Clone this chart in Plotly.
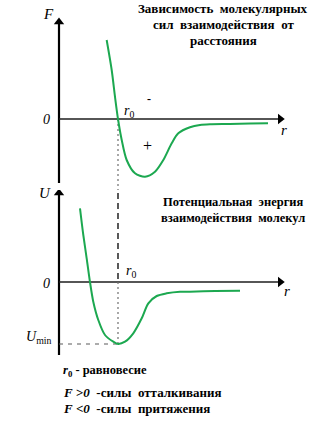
import plotly.graph_objects as go

# ---- data (r in units of r0) ----
r0 = 1.0
F_r = [0.808, 0.893, 0.949, 1.0, 1.063, 1.147, 1.288, 1.458, 1.627, 1.768, 1.910,
       2.022, 2.220, 2.390, 2.559, 2.898, 3.237, 3.542]
F_val = [1.58, 0.98, 0.446, 0.0, -0.42, -0.82, -1.086, -1.154, -1.054, -0.82, -0.486,
         -0.286, -0.166, -0.12, -0.106, -0.10, -0.09, -0.086]

U_r = [0.356, 0.412, 0.469, 0.525, 0.581, 0.666, 0.780, 0.920, 1.0, 1.119, 1.259,
       1.402, 1.514, 1.656, 1.825, 2.051, 2.220, 2.644, 3.068]
U_val = [1.474, 0.94, 0.474, 0.0, -0.394, -0.76, -1.06, -1.194, -1.24, -1.194, -1.026,
         -0.726, -0.426, -0.28, -0.226, -0.194, -0.194, -0.18, -0.174]
U_min = min(U_val)

title_top = ["Зависимость  молекулярных", "сил  взаимодействия  от", "расстояния"]
title_bot = ["Потенциальная  энергия", "взаимодействия  молекул"]
notes = ["<i>r</i><sub>0</sub> - равновесие",
         "<i>F</i> &gt;<i>0</i>  -силы  отталкивания",
         "<i>F</i> &lt;<i>0</i>  -силы  притяжения"]

# ---- layout constants ----
W, H = 330, 433
X_RANGE = [-1.0, W / 59 - 1]
TOP_DOM = [1 - 190 / H, 1.0]
BOT_DOM = [0.0, 1 - 190 / H]
TOP_RANGE = [-1.42, 2.38]
BOT_RANGE = [-3.02, 1.84]
R_AXIS_END = 3.75
F_AXIS = [-1.28, 1.94]
U_AXIS = [-1.46, 1.78]
GREEN = "rgb(28,168,80)"
SERIF = "Liberation Serif"

def px(x, y):
    return x / W, 1 - y / H

fig = go.Figure()

def line(x, y, yax, color, width, dash="solid"):
    fig.add_trace(go.Scatter(x=x, y=y, mode="lines", xaxis="x", yaxis=yax,
                             line=dict(color=color, width=width, dash=dash), hoverinfo="skip"))

def head(x, y, yax, sym):
    fig.add_trace(go.Scatter(x=[x], y=[y], mode="markers", xaxis="x", yaxis=yax,
                             marker=dict(symbol=sym, size=9, color="black",
                                         line=dict(width=0)), hoverinfo="skip"))

# axes
line([0, 0], F_AXIS, "y", "black", 2.2)
head(0, F_AXIS[1], "y", "triangle-up")
line([0, R_AXIS_END], [0, 0], "y", "rgb(30,30,30)", 1.6)
head(R_AXIS_END, 0, "y", "triangle-right")
line([0, 0], U_AXIS, "y2", "black", 2.2)
head(0, U_AXIS[1], "y2", "triangle-up")
line([0, R_AXIS_END], [0, 0], "y2", "rgb(30,30,30)", 1.6)
head(R_AXIS_END, 0, "y2", "triangle-right")

# r0 guide lines
line([r0, r0], [0, TOP_RANGE[0]], "y", "rgb(110,110,110)", 1.2, "2px,3px")
line([r0, r0], [BOT_RANGE[1] - 0.06, 0], "y2", "black", 1.3, "6px,4px")
line([r0, r0], [0, U_min], "y2", "rgb(110,110,110)", 1.2, "2px,3px")
line([0, r0], [U_min, U_min], "y2", "rgb(90,90,90)", 1.2, "4px,5px")

# curves
fig.add_trace(go.Scatter(x=F_r, y=F_val, mode="lines", xaxis="x", yaxis="y",
                         line=dict(color=GREEN, width=2, shape="spline", smoothing=0.8)))
fig.add_trace(go.Scatter(x=U_r, y=U_val, mode="lines", xaxis="x", yaxis="y2",
                         line=dict(color=GREEN, width=2, shape="spline", smoothing=0.8)))

ann = []

def text(t, x, y, size=12, xanchor="center", yanchor="middle", bold=False, italic=False):
    xx, yy = px(x, y)
    s = t
    if italic:
        s = "<i>" + s + "</i>"
    if bold:
        s = "<b>" + s + "</b>"
    ann.append(dict(text=s, x=xx, y=yy, xref="paper", yref="paper", showarrow=False,
                    xanchor=xanchor, yanchor=yanchor,
                    font=dict(family=SERIF, size=size, color="black")))

# axis labels
text("F", 48, 14, 15, italic=True)
text("0", 46, 119, 14, italic=True)
text("r", 284, 130, 15, italic=True)
text("<i>r</i><sub>0</sub>", 129, 111, 14)
text("-", 149, 99, 12, bold=True)
text("+", 147, 145, 16)
text("U", 45, 193, 15, italic=True)
text("0", 46, 283, 14, italic=True)
text("r", 287, 291, 15, italic=True)
text("<i>r</i><sub>0</sub>", 131, 271, 14)
text("<i>U</i><sub>min</sub>", 38, 337, 14)

# titles
for i, t in enumerate(title_top):
    text(t, 223, 8.5 + 16 * i, 13, bold=True)
for i, t in enumerate(title_bot):
    text(t, 233, 202 + 15.5 * i, 12.5, bold=True)

# notes
for i, (t, y) in enumerate(zip(notes, [371, 392, 408])):
    text("<b>" + t + "</b>", 61, y, 13 if i else 12.5, xanchor="left")

fig.update_layout(
    width=W, height=H, autosize=False,
    margin=dict(l=0, r=0, t=0, b=0),
    paper_bgcolor="white", plot_bgcolor="white",
    showlegend=False,
    xaxis=dict(domain=[0, 1], range=X_RANGE, visible=False, anchor="y", fixedrange=True),
    yaxis=dict(domain=TOP_DOM, range=TOP_RANGE, visible=False, fixedrange=True),
    yaxis2=dict(domain=BOT_DOM, range=BOT_RANGE, visible=False, fixedrange=True, anchor="x"),
    annotations=ann,
)

fig.write_html("out.html", config={"displayModeBar": False})
